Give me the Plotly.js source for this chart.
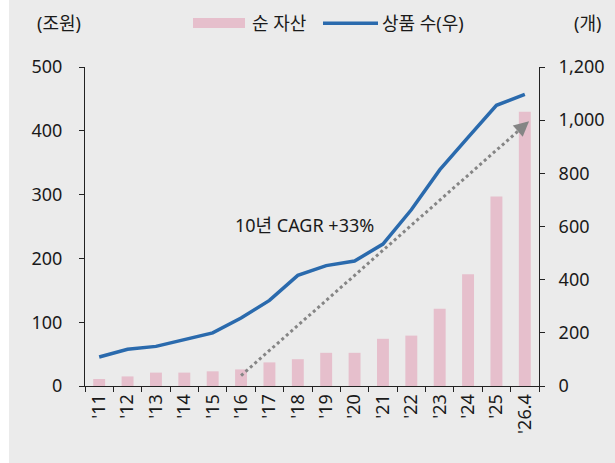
<!DOCTYPE html>
<html><head><meta charset="utf-8">
<script src="https://cdn.plot.ly/plotly-3.0.1.min.js"></script>
<style>
html,body{margin:0;padding:0;background:#ffffff;}
#chart{position:absolute;left:9px;top:0;width:606px;height:463px;}
</style>
</head><body><div id="chart"></div>
<script>
const categories = ["'11","'12","'13","'14","'15","'16","'17","'18","'19","'20","'21","'22","'23","'24","'25","'26.4"];
const netAssets = [11, 15, 21, 21, 23, 26, 37, 42, 52, 52, 74, 79, 121, 175, 297, 430];
const productCount = [109, 138, 149, 175, 200, 256, 322, 416, 453, 470, 534, 663, 813, 935, 1056, 1097];
const leftTicks = [0, 100, 200, 300, 400, 500];
const rightTicks = [0, 200, 400, 600, 800, 1000, 1200];
const seriesNames = ["순 자산", "상품 수(우)"];
const unitLabels = ["(조원)", "(개)"];
const cagrText = "10년 CAGR +33%";
// arrow: start (category index, left-axis value) and tip
const arrowStart = [5, 16.4];
const arrowShaftEnd = [14.85, 403];
const arrowTip = [15.15, 415];

const FONT = "Noto Sans, Noto Sans CJK KR, sans-serif";
const TXT = "#1a1a1a";
const PINK = "#e6bfcc";
const BLUE = "#2a6aad";
const GREY = "#858585";
const BG = "#ebebeb";

const traces = [
  {type:'bar', x:categories, y:netAssets, name:seriesNames[0], marker:{color:PINK}, width:0.42, yaxis:'y', hoverinfo:'x+y'},
  {type:'scatter', mode:'lines', x:categories, y:productCount, name:seriesNames[1], line:{color:BLUE, width:3.5}, yaxis:'y2'}
];

// paper-coordinate helpers (plot area 85..539 px, 67..386 px)
const L=85, R=539, T=67, B=386;
const px = v => (v - L) / (R - L);
const py = v => (B - v) / (B - T);

const layout = {
  width:606, height:463,
  margin:{l:76, r:76, t:67, b:77, pad:0},
  paper_bgcolor:BG, plot_bgcolor:BG,
  font:{family:FONT, size:18, color:TXT},
  showlegend:false,
  bargap:0.58,
  xaxis:{
    type:'category', range:[-0.5, 15.5], tickangle:-90,
    ticks:'outside', tickson:'boundaries', ticklen:5, tickcolor:'#222', tickwidth:1,
    showline:true, linecolor:'#222', linewidth:1, showgrid:false, zeroline:false,
    tickfont:{family:FONT, size:18, color:TXT}, fixedrange:true
  },
  yaxis:{
    range:[0,500], tickvals:leftTicks, ticks:'outside', ticklen:5, tickcolor:'#222',
    showline:true, linecolor:'#222', linewidth:1, showgrid:false, zeroline:false,
    tickfont:{family:FONT, size:18, color:TXT}, ticklabelstandoff:13
  },
  yaxis2:{
    range:[0,1200], tickvals:rightTicks, tickformat:',', overlaying:'y', side:'right',
    ticks:'outside', ticklen:5, tickcolor:'#222',
    showline:true, linecolor:'#222', linewidth:1, showgrid:false, zeroline:false,
    tickfont:{family:FONT, size:18, color:TXT}, ticklabelstandoff:10
  },
  shapes:[
    {type:'line', xref:'x', yref:'y', x0:arrowStart[0], y0:arrowStart[1], x1:arrowShaftEnd[0], y1:arrowShaftEnd[1],
     line:{color:GREY, width:3, dash:'dot'}},
    {type:'rect', xref:'paper', yref:'paper', x0:px(193), x1:px(245), y0:py(28), y1:py(18), fillcolor:PINK, line:{width:0}},
    {type:'line', xref:'paper', yref:'paper', x0:px(323), x1:px(378), y0:py(23.3), y1:py(23.3), line:{color:BLUE, width:3.5}}
  ],
  annotations:[
    {xref:'x', yref:'y', x:arrowTip[0], y:arrowTip[1], ax:-8, ay:7, axref:'pixel', ayref:'pixel',
     showarrow:true, arrowhead:2, arrowsize:1, arrowwidth:3, arrowcolor:GREY, text:''},
    {xref:'paper', yref:'paper', x:px(233), y:py(225), xanchor:'left', yanchor:'middle', showarrow:false,
     text:cagrText, font:{family:FONT, size:18, color:TXT}},
    {xref:'paper', yref:'paper', x:px(250), y:py(23.3), xanchor:'left', yanchor:'middle', showarrow:false,
     text:seriesNames[0], font:{family:FONT, size:18, color:TXT}},
    {xref:'paper', yref:'paper', x:px(380), y:py(23.3), xanchor:'left', yanchor:'middle', showarrow:false,
     text:seriesNames[1], font:{family:FONT, size:18, color:TXT}},
    {xref:'paper', yref:'paper', x:px(35), y:py(23.3), xanchor:'left', yanchor:'middle', showarrow:false,
     text:unitLabels[0], font:{family:FONT, size:18, color:TXT}},
    {xref:'paper', yref:'paper', x:px(603), y:py(23.3), xanchor:'right', yanchor:'middle', showarrow:false,
     text:unitLabels[1], font:{family:FONT, size:18, color:TXT}}
  ]
};

Plotly.newPlot('chart', traces, layout, {displayModeBar:false, staticPlot:true});
</script>
</body></html>
